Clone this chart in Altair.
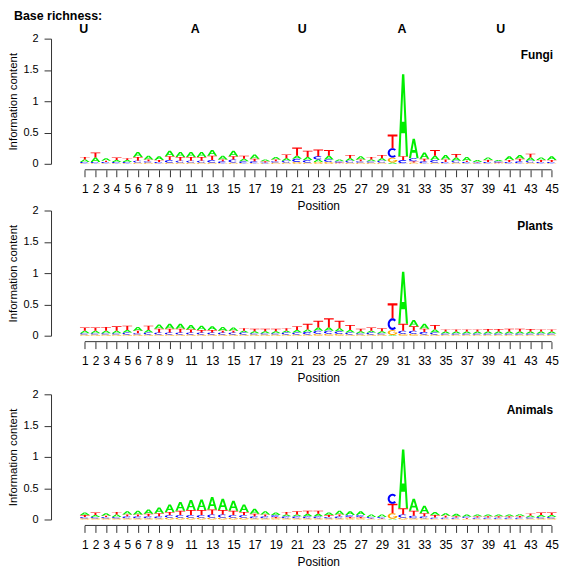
import math
import altair as alt
import pandas as pd

positions = list(range(1, 46))

fungi_A = [.04, .07, .04, .03, .03, .08, .06, .06, .09, .08, .08, .08, .09, .06, .09, .04, .07, .03, .04, .04,
           .05, .05, .04, .06, .03, .04, .05, .03, .04, .02, 1.31, .31, .10, .07, .07, .05, .06, .03, .04, .02,
           .06, .06, .05, .04, .06]
fungi_C = [.02, .02, .02, .02, .02, .03, .02, .02, .04, .03, .03, .03, .04, .03, .05, .03, .03, .01, .02, .03,
           .05, .04, .05, .04, .02, .03, .02, .02, .03, .15, .05, .05, .03, .04, .02, .03, .02, .01, .02, .02,
           .02, .03, .03, .02, .02]
fungi_G = [.01, .01, .01, .01, .01, .02, .02, .01, .02, .02, .02, .02, .02, .01, .02, .01, .01, .01, .02, .02,
           .03, .02, .03, .03, .01, .02, .02, .02, .02, .08, .01, .02, .01, .02, .01, .02, .01, .01, .01, .01,
           .01, .01, .02, .01, .01]
fungi_T = [.04, .08, .02, .04, .03, .06, .03, .03, .06, .06, .06, .06, .07, .03, .05, .05, .04, .02, .03, .06,
           .13, .10, .11, .09, .01, .05, .03, .04, .05, .22, .06, .02, .04, .09, .04, .055, .02, .01, .03, .01,
           .03, .04, .06, .03, .03]

plants_A = [.04, .04, .04, .04, .04, .06, .04, .07, .08, .08, .07, .07, .06, .06, .05, .03, .03, .03, .03, .03,
            .04, .04, .05, .05, .05, .04, .03, .03, .03, .01, .83, .10, .08, .05, .03, .03, .03, .03, .03, .03,
            .03, .03, .03, .03, .03]
plants_C = [.02, .02, .02, .02, .03, .02, .03, .03, .03, .03, .03, .03, .03, .03, .03, .03, .02, .02, .02, .03,
            .03, .04, .05, .05, .04, .03, .02, .03, .02, .19, .05, .05, .04, .03, .02, .02, .02, .02, .02, .02,
            .02, .02, .02, .02, .02]
plants_G = [.02, .02, .02, .02, .02, .02, .02, .02, .02, .02, .02, .02, .02, .02, .02, .02, .02, .02, .02, .02,
            .02, .02, .03, .03, .03, .02, .02, .02, .02, .08, .03, .03, .02, .02, .015, .015, .015, .015, .015, .015,
            .015, .015, .015, .015, .015]
plants_T = [.05, .05, .06, .07, .07, .04, .07, .06, .06, .06, .05, .04, .04, .03, .03, .04, .04, .04, .04, .04,
            .06, .09, .11, .15, .12, .08, .04, .05, .05, .24, .11, .07, .05, .07, .035, .035, .035, .035, .04, .04,
            .045, .045, .04, .035, .035]

animals_A = [.04, .03, .04, .04, .05, .06, .07, .09, .12, .14, .16, .17, .20, .18, .16, .12, .08, .05, .04, .03,
             .03, .04, .04, .04, .06, .06, .06, .04, .04, .01, .94, .19, .12, .05, .04, .04, .035, .03, .03, .03,
             .03, .03, .03, .03, .03]
animals_C = [.02, .02, .02, .02, .03, .03, .03, .03, .04, .04, .04, .04, .05, .05, .04, .04, .03, .03, .03, .03,
             .03, .03, .03, .02, .03, .03, .03, .02, .02, .16, .05, .04, .03, .02, .02, .02, .02, .02, .02, .02,
             .02, .02, .02, .02, .02]
animals_G = [.02, .02, .02, .02, .02, .02, .02, .02, .03, .03, .03, .03, .03, .03, .03, .03, .02, .02, .02, .02,
             .02, .02, .02, .02, .02, .02, .02, .01, .01, .09, .03, .02, .02, .01, .01, .01, .01, .01, .01, .01,
             .01, .01, .015, .02, .02]
animals_T = [.03, .04, .02, .04, .03, .03, .04, .05, .05, .07, .08, .08, .08, .07, .07, .05, .04, .03, .02, .04,
             .05, .05, .05, .03, .03, .02, .02, .01, .01, .15, .10, .08, .05, .04, .03, .02, .015, .02, .02, .02,
             .02, .025, .03, .04, .04]

richness_letters = ["U", "A", "U", "A", "U"]
richness_pos = [0.9, 11.4, 21.5, 30.9, 40.2]

y_ticks = [0, 0.5, 1, 1.5, 2]

FONT = "Liberation Sans"
BASES = ["A", "C", "G", "T"]
COLORS = ["#00EE00", "#0000FF", "#FFA500", "#FF0000"]
TIE = {"G": 0, "C": 1, "A": 2, "T": 3}


def arc(cx, cy, rx, ry, a0, a1, step):
    pts = []
    a = a0
    while (step > 0 and a <= a1) or (step < 0 and a >= a1):
        r = math.radians(a)
        pts.append((cx + rx * math.cos(r), cy + ry * math.sin(r)))
        a += step
    return pts


GLYPHS = {
    "A": [(0, 0), (0.22, 0), (0.31, 0.28), (0.69, 0.28), (0.78, 0), (1, 0), (0.62, 1), (0.38, 1), (0, 0),
          (0.37, 0.42), (0.5, 0.78), (0.63, 0.42), (0.37, 0.42), (0, 0)],
    "T": [(0, 1), (1, 1), (1, 0.85), (0.6, 0.85), (0.6, 0), (0.4, 0), (0.4, 0.85), (0, 0.85)],
    "C": arc(0.5, 0.5, 0.5, 0.5, 45, 315, 15) + arc(0.5, 0.5, 0.29, 0.31, 315, 45, -15),
    "G": arc(0.5, 0.5, 0.5, 0.5, 45, 345, 15)
         + [(0.983, 0.52), (0.56, 0.52), (0.56, 0.40), (0.79, 0.40)]
         + arc(0.5, 0.5, 0.29, 0.31, 330, 45, -15),
}


def letter_polys(a, c, g, t):
    rows = []
    for i, pos in enumerate(positions):
        hs = list(zip([a[i], c[i], g[i], t[i]], BASES))
        hs.sort(key=lambda z: (z[0], TIE[z[1]]))
        y0 = 0.0
        for h, b in hs:
            if h <= 0:
                continue
            lid = f"{pos}_{b}"
            for k, (u, v) in enumerate(GLYPHS[b]):
                rows.append({"id": lid, "k": k, "base": b,
                             "x": pos - 0.46 + 0.92 * u, "y": y0 + h * v})
            y0 += h
    return pd.DataFrame(rows)


W = 480.6
label_expr = "(datum.value <= 9 || datum.value % 2 == 1) ? datum.label : ''"

X_SCALE = alt.Scale(domain=[0.5, 45.5], nice=False, zero=False)
X_AXIS = alt.Axis(values=positions, labelExpr=label_expr, title="Position", offset=6,
                  tickSize=7, domain=False, grid=False, labelOverlap=False, labelFlush=False,
                  labelPadding=7, titlePadding=6, labelFontSize=12)


def panel(name, a, c, g, t, height, top, header=False):
    df = letter_polys(a, c, g, t)
    ys = alt.Y("y:Q", scale=alt.Scale(domain=[0, 2], nice=False, range=[height, top]),
               axis=alt.Axis(values=y_ticks, format="~g", title="Information content", offset=28.7,
                             tickSize=7, grid=False, labelPadding=6, titlePadding=4, labelFontSize=11))
    logo = alt.Chart(df).mark_line(filled=True, strokeWidth=0).encode(
        x=alt.X("x:Q", scale=X_SCALE, axis=X_AXIS), y=ys,
        color=alt.Color("base:N", scale=alt.Scale(domain=BASES, range=COLORS), legend=None),
        detail="id:N",
        order="k:Q",
    )
    axis_line = alt.Chart(pd.DataFrame({"x": [positions[0]], "x2": [positions[-1]]})).mark_rule(
        color="#333", strokeWidth=1).encode(
        x=alt.X("x:Q", scale=X_SCALE, axis=X_AXIS), x2="x2:Q", y=alt.value(height + 6))
    lab = alt.Chart(pd.DataFrame({"t": [name]})).mark_text(
        align="right", baseline="middle", fontWeight="bold", fontSize=12, font=FONT, color="black"
    ).encode(text="t:N", x=alt.value(W - 4), y=alt.value(top + 16))
    layers = [logo, axis_line, lab]
    if header:
        hdr = alt.Chart(pd.DataFrame({"t": ["Base richness:"]})).mark_text(
            align="left", baseline="top", fontWeight="bold", fontSize=12.5, font=FONT, color="black"
        ).encode(text="t:N", x=alt.value(-66), y=alt.value(-29))
        rich = alt.Chart(pd.DataFrame({"x": richness_pos, "t": richness_letters})).mark_text(
            align="center", baseline="middle", fontWeight="bold", fontSize=12.5, font=FONT, color="black"
        ).encode(text="t:N", x=alt.X("x:Q", scale=X_SCALE, axis=X_AXIS), y=alt.value(-10))
        layers += [hdr, rich]
    return alt.layer(*layers).properties(width=W, height=height)


p1 = panel("Fungi", fungi_A, fungi_C, fungi_G, fungi_T, 126, 0, header=True)
p2 = panel("Plants", plants_A, plants_C, plants_G, plants_T, 126, 0)
p3 = panel("Animals", animals_A, animals_C, animals_G, animals_T, 138, 12)

chart = alt.vconcat(p1, p2, p3, spacing=47, bounds="flush").properties(padding=0).configure_view(
    stroke=None
).configure_axis(
    labelFont=FONT, titleFont=FONT, labelColor="black", titleColor="black", labelOverlap=False,
    titleFontWeight="normal", titleFontSize=12, domainColor="#333", tickColor="#333"
).configure_axisY(titleFontSize=11.5, labelAngle=0)

chart.save("out.html", embed_options={"renderer": "svg", "actions": False})
